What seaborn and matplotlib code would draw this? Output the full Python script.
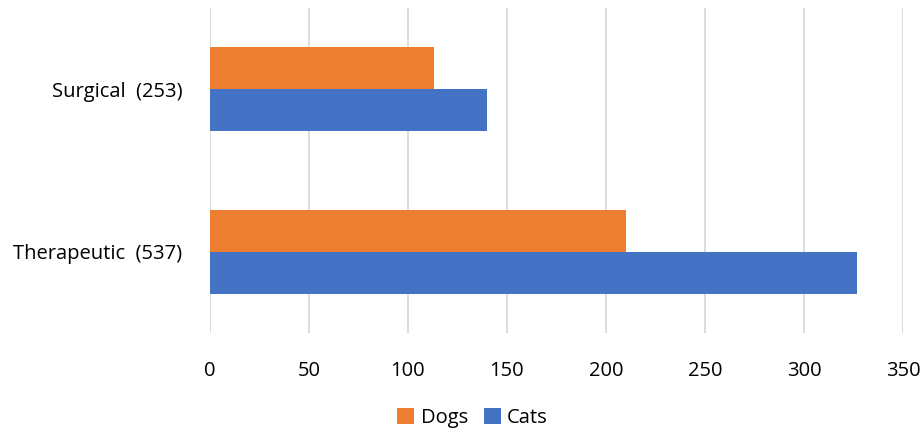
import pandas as pd
import matplotlib.pyplot as plt
import seaborn as sns

# datos
categorias = ["Surgical  (253)", "Therapeutic  (537)"]
perros = [113, 210]
gatos = [140, 327]
especies = ["Dogs", "Cats"]
colores = ["#ED7D31", "#4472C4"]
ticks_x = [0, 50, 100, 150, 200, 250, 300, 350]

df = pd.DataFrame({
    "categoria": categorias * 2,
    "valor": perros + gatos,
    "especie": [especies[0]] * len(categorias) + [especies[1]] * len(categorias),
})

sns.set_style("white")
plt.rcParams["font.family"] = ["Open Sans", "DejaVu Sans"]
plt.rcParams["text.color"] = "black"
plt.rcParams["xtick.color"] = "black"
plt.rcParams["ytick.color"] = "black"

fig = plt.figure(figsize=(9.23, 4.32), dpi=100)
ax = fig.add_axes([0.2275, 0.229, 0.7508, 0.7525])

sns.barplot(data=df, x="valor", y="categoria", hue="especie", order=categorias,
            hue_order=especies, palette=colores, orient="h", width=0.515,
            linewidth=0, saturation=1, ax=ax)

ax.set_xlim(0, 350)
ax.set_ylim(1.5, -0.5)
ax.set_xticks(ticks_x)
ax.set_xticklabels([str(t) for t in ticks_x], fontsize=14.5)
ax.tick_params(axis="x", length=0, pad=20)
ax.tick_params(axis="y", length=0, pad=20, labelsize=14.5)
ax.set_xlabel("")
ax.set_ylabel("")
ax.grid(axis="x", color="#D9D9D9", linewidth=1.3)
ax.set_axisbelow(True)
for s in ax.spines.values():
    s.set_visible(False)

handles, labels = ax.get_legend_handles_labels()
ax.get_legend().remove()
fig.legend(handles, labels, loc="center", bbox_to_anchor=(0.512, 0.033), ncol=2,
           frameon=False, fontsize=14.5, handlelength=0.85, handleheight=0.85,
           handletextpad=0.3, columnspacing=0.8)

fig.savefig("out.png", dpi=100)
